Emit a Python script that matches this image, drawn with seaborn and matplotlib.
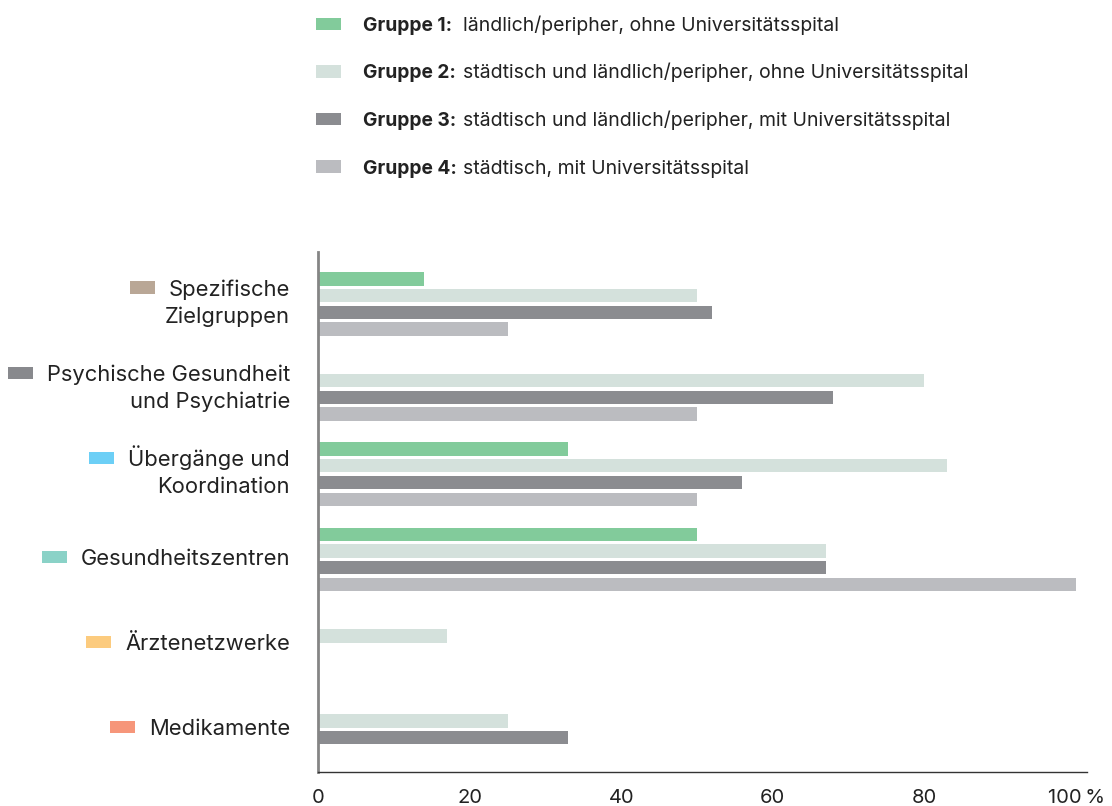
import matplotlib
matplotlib.use("Agg")
import matplotlib.pyplot as plt
from matplotlib.patches import Rectangle
from matplotlib.transforms import blended_transform_factory, offset_copy
import pandas as pd
import seaborn as sns

# --- data -------------------------------------------------------------
categories = [
    "Spezifische\nZielgruppen",
    "Psychische Gesundheit\nund Psychiatrie",
    "Übergänge und\nKoordination",
    "Gesundheitszentren",
    "Ärztenetzwerke",
    "Medikamente",
]
category_colors = ["#B9A796", "#88898D", "#6CCFF6", "#8AD2C7", "#FCCB7E", "#F6967A"]

group_names = ["Gruppe 1:", "Gruppe 2:", "Gruppe 3:", "Gruppe 4:"]
group_descriptions = [
    "ländlich/peripher, ohne Universitätsspital",
    "städtisch und ländlich/peripher, ohne Universitätsspital",
    "städtisch und ländlich/peripher, mit Universitätsspital",
    "städtisch, mit Universitätsspital",
]
group_colors = ["#82CB9B", "#D4E1DC", "#8B8C90", "#BBBCC0"]

gruppe_1 = [14, 0, 33, 50, 0, 0]
gruppe_2 = [50, 80, 83, 67, 17, 25]
gruppe_3 = [52, 68, 56, 67, 0, 33]
gruppe_4 = [25, 50, 50, 100, 0, 0]

x_ticks = [0, 20, 40, 60, 80, 100]
x_tick_labels = ["0", "20", "40", "60", "80", "100\u2009%"]

# --- long-form table for seaborn ---------------------------------------
series = [gruppe_1, gruppe_2, gruppe_3, gruppe_4]
rows = []
for name, values in zip(group_names, series):
    for cat, v in zip(categories, values):
        rows.append({"Kategorie": cat, "Gruppe": name, "Anteil": v})
df = pd.DataFrame(rows)

# --- style --------------------------------------------------------------
sns.set_theme(style="white")
plt.rcParams["font.family"] = ["Inter", "DejaVu Sans"]
text_color = "#222222"

W, H = 1112, 806
fig = plt.figure(figsize=(W / 100, H / 100), dpi=100)
fig.patch.set_facecolor("white")
ax = fig.add_axes([318 / W, 34 / H, (1087 - 318) / W, (772 - 252) / H])

sns.barplot(
    data=df, y="Kategorie", x="Anteil", hue="Gruppe",
    hue_order=group_names, order=categories,
    palette=group_colors, orient="h", width=0.785, gap=0.2,
    saturation=1, linewidth=0, errorbar=None, legend=False, ax=ax,
)

ax.set_xlim(0, 101.45)
ax.set_ylim(5.5, -0.61)
ax.set_xlabel("")
ax.set_ylabel("")
ax.set_yticks([])
ax.set_xticks(x_ticks)
ax.set_xticklabels(x_tick_labels, fontsize=14.5, color=text_color)
ax.tick_params(axis="x", length=0, pad=12)

for side in ("top", "right"):
    ax.spines[side].set_visible(False)
ax.spines["left"].set_color("#858585")
ax.spines["left"].set_linewidth(2)
ax.spines["bottom"].set_color("#333333")
ax.spines["bottom"].set_linewidth(1)

# --- category labels with coloured markers -----------------------------
label_trans = blended_transform_factory(ax.transAxes, ax.transData)
first_lines = []
for i, cat in enumerate(categories):
    lines = cat.split("\n")
    if len(lines) == 1:
        offsets = [-6]
    else:
        offsets = [8, -19]
    texts = []
    for line, dy in zip(lines, offsets):
        t = ax.text(
            0, i, line,
            transform=offset_copy(label_trans, fig=fig, x=-28, y=dy, units="dots"),
            ha="right", va="baseline", fontsize=15.8, color=text_color,
        )
        texts.append(t)
    first_lines.append(texts[0])

fig.canvas.draw()
renderer = fig.canvas.get_renderer()
for t, col in zip(first_lines, category_colors):
    bb = t.get_window_extent(renderer)
    x_right = bb.x0 - 14
    base_y = t.get_transform().transform(t.get_position())[1]
    rect_y = base_y + 2
    fig.patches.append(Rectangle(
        ((x_right - 25) / W, rect_y / H), 25 / W, 12.5 / H,
        transform=fig.transFigure, facecolor=col, edgecolor="none",
    ))

# --- legend ------------------------------------------------------------
legend_rows_y = [24, 71.5, 119, 166.5]
for name, desc, col, yc in zip(group_names, group_descriptions, group_colors, legend_rows_y):
    fig.patches.append(Rectangle(
        (316 / W, (H - yc - 6) / H), 25 / W, 12 / H,
        transform=fig.transFigure, facecolor=col, edgecolor="none",
    ))
    fig.text(363 / W, (H - yc - 7) / H, name, fontsize=13.8, fontweight="bold",
             color=text_color, ha="left", va="baseline")
    fig.text(463 / W, (H - yc - 7) / H, desc, fontsize=14,
             color=text_color, ha="left", va="baseline")

fig.savefig("out.png", dpi=100, facecolor="white")
